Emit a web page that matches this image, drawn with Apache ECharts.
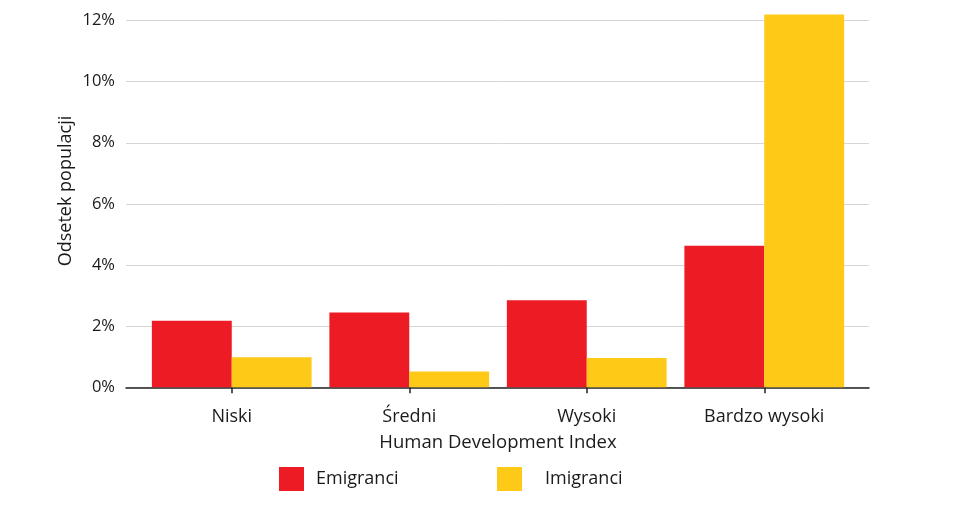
<!DOCTYPE html>
<html>
<head>
<meta charset="utf-8">
<script src="https://cdn.jsdelivr.net/npm/echarts@6/dist/echarts.min.js"></script>
<style>html,body{margin:0;padding:0;background:#fff;}#c{width:960px;height:508px;}</style>
</head>
<body>
<div id="c"></div>
<script>
var categories = ['Niski', 'Średni', 'Wysoki', 'Bardzo wysoki'];
var emigranci = [2.18, 2.45, 2.85, 4.63];
var imigranci = [0.98, 0.52, 0.96, 12.2];
var yTickMax = 12;
var yTickStep = 2;

var FONT = '"Open Sans", "Noto Sans", sans-serif';
var TXT = '#1a1a1a';
var chart = echarts.init(document.getElementById('c'));
chart.setOption({
  animation: false,
  textStyle: { fontFamily: FONT },
  grid: [
    { left: 126, right: 91, top: 20.5, bottom: 120.7 },
    { left: 143, right: 107, top: 20.5, bottom: 120.7 }
  ],
  xAxis: [
    { gridIndex: 0, type: 'value', min: 0, max: 1, axisLabel: { show: false }, axisTick: { show: false },
      splitLine: { show: false }, axisLine: { show: true, onZero: false, lineStyle: { color: '#222', width: 1.5 } } },
    { gridIndex: 1, type: 'category', data: categories,
      axisLine: { show: false },
      axisTick: { show: true, alignWithLabel: true, length: 6, lineStyle: { color: '#222', width: 1.5 } },
      axisLabel: { color: TXT, fontSize: 18, margin: 21, fontFamily: FONT },
      name: 'Human Development Index', nameLocation: 'middle', nameGap: 46,
      nameTextStyle: { color: TXT, fontSize: 18.5, fontFamily: FONT } }
  ],
  yAxis: [
    { gridIndex: 0, type: 'value', min: 0, max: yTickMax, interval: yTickStep,
      axisLine: { show: false }, axisTick: { show: false },
      axisLabel: { color: TXT, fontSize: 16.5, margin: 11, formatter: '{value}%', fontFamily: FONT },
      splitLine: { show: true, lineStyle: { color: '#d6d6d6', width: 1 } } },
    { gridIndex: 1, type: 'value', min: 0, max: yTickMax, interval: yTickStep, show: false,
      splitLine: { show: false } }
  ],
  legend: [
    { data: ['Emigranci'], left: 279, top: 467, padding: 0, itemWidth: 25, itemHeight: 24, icon: 'rect',
      textStyle: { color: TXT, fontSize: 18, padding: [0, 0, 0, 7], fontFamily: FONT } },
    { data: ['Imigranci'], left: 497, top: 467, padding: 0, itemWidth: 25, itemHeight: 24, icon: 'rect',
      textStyle: { color: TXT, fontSize: 18, padding: [5, 0, 0, 18], fontFamily: FONT } }
  ],
  graphic: [
    { type: 'text', x: 66, y: 191, rotation: Math.PI / 2,
      style: { text: 'Odsetek populacji', fill: TXT, fontSize: 18, fontFamily: FONT, align: 'center', verticalAlign: 'middle' } }
  ],
  series: [
    { name: 'Emigranci', type: 'bar', xAxisIndex: 1, yAxisIndex: 1, data: emigranci,
      barGap: 0, barCategoryGap: '10%', clip: false, itemStyle: { color: '#ED1C24' } },
    { name: 'Imigranci', type: 'bar', xAxisIndex: 1, yAxisIndex: 1, data: imigranci,
      barGap: 0, barCategoryGap: '10%', clip: false, itemStyle: { color: '#FFC917' } }
  ]
});
</script>
</body>
</html>
